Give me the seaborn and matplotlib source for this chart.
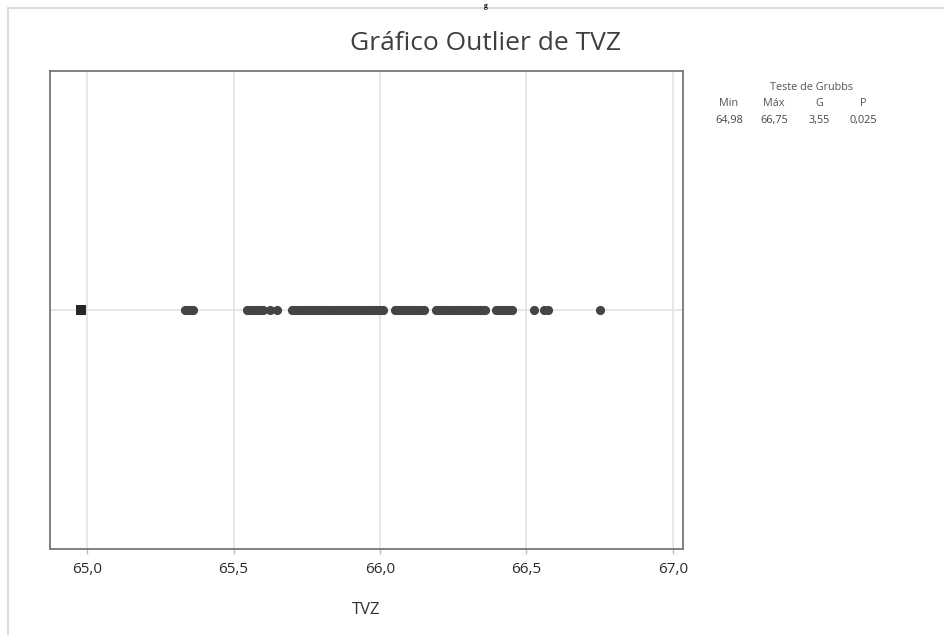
import matplotlib
matplotlib.use("Agg")
import matplotlib.pyplot as plt
from matplotlib.lines import Line2D
from matplotlib.ticker import FuncFormatter
import seaborn as sns

# ---- data ----
outlier = [64.98]
group_a = [65.335, 65.345, 65.355, 65.36]
group_b = [65.545, 65.555, 65.565, 65.575, 65.585, 65.595, 65.60, 65.625, 65.65]
group_c = [65.70, 65.71, 65.72, 65.73, 65.74, 65.75, 65.76, 65.77, 65.78, 65.79,
           65.80, 65.81, 65.82, 65.83, 65.84, 65.85, 65.86, 65.87, 65.88, 65.89,
           65.90, 65.91, 65.92, 65.93, 65.94, 65.95, 65.96, 65.97, 65.98, 65.99,
           66.00, 66.01]
group_d = [66.05, 66.06, 66.07, 66.08, 66.09, 66.10, 66.11, 66.12, 66.13, 66.14, 66.15]
group_e = [66.19, 66.20, 66.21, 66.22, 66.23, 66.24, 66.25, 66.26, 66.27, 66.28,
           66.29, 66.30, 66.31, 66.32, 66.33, 66.34, 66.35, 66.36]
group_f = [66.395, 66.405, 66.415, 66.425, 66.435, 66.445, 66.45]
group_g = [66.525, 66.56, 66.575]
group_h = [66.75]

regular = group_a + group_b + group_c + group_d + group_e + group_f + group_g + group_h

ticks = [65.0, 65.5, 66.0, 66.5, 67.0]
title = "Gráfico Outlier de TVZ"
xlabel = "TVZ"
grubbs_title = "Teste de Grubbs"
grubbs_cols = ["Min", "Máx", "G", "P"]
grubbs_vals = ["64,98", "66,75", "3,55", "0,025"]

# ---- figure ----
sns.set_theme(style="white")
plt.rcParams["font.family"] = ["Open Sans", "DejaVu Sans"]

W, H = 944, 635
fig = plt.figure(figsize=(W / 100, H / 100), dpi=100)
ax = fig.add_axes([50 / W, 1 - 549 / H, (683 - 50) / W, (549 - 71) / H])

dark = "#444444"
sns.stripplot(x=regular, jitter=False, color=dark, size=6.6, marker="o",
              linewidth=0, ax=ax, orient="h", zorder=3)
sns.stripplot(x=outlier, jitter=False, color="#262626", size=7.0, marker="s",
              linewidth=0, ax=ax, orient="h", zorder=3)

ax.set_xlim(64.873, 67.035)
ax.set_ylim(0.5, -0.5)
ax.set_yticks([])
ax.set_xticks(ticks)
ax.xaxis.set_major_formatter(FuncFormatter(lambda v, p: f"{v:.1f}".replace(".", ",")))
ax.tick_params(axis="x", bottom=True, length=3.5, width=1, color="#bbbbbb",
               direction="out", pad=6, labelsize=11, labelcolor="#2a2a2a")
for v in ticks:
    ax.axvline(v, color="#e3e3e3", lw=1.2, zorder=0)
ax.axhline(0, color="#e3e3e3", lw=1.2, zorder=0)
for s in ax.spines.values():
    s.set_color("#777777")
    s.set_linewidth(1.3)

ax.set_xlabel(xlabel, fontsize=12, color="#333333", labelpad=18)
fig.text(485 / W, 1 - 43 / H, title, ha="center", va="center",
         fontsize=19, color="#3f3f3f")

# Grubbs table
fig.text(812 / W, 1 - 88 / H, grubbs_title, ha="center", va="center",
         fontsize=7.8, color="#555555")
col_x = [729, 774, 819, 863]
for cx, c, v in zip(col_x, grubbs_cols, grubbs_vals):
    fig.text(cx / W, 1 - 104 / H, c, ha="center", va="center", fontsize=7.8, color="#555555")
    fig.text(cx / W, 1 - 120 / H, v, ha="center", va="center", fontsize=7.8, color="#444444")

# page border and glyph above it
fig.add_artist(Line2D([8 / W, 1], [1 - 8 / H, 1 - 8 / H], color="#dddddd", lw=1.5,
                      transform=fig.transFigure))
fig.add_artist(Line2D([8 / W, 8 / W], [0, 1 - 8 / H], color="#dddddd", lw=1.5,
                      transform=fig.transFigure))
fig.text(486 / W, 1 - 10 / H, "g", ha="center", va="bottom", fontsize=5.5,
         family="Liberation Serif", fontweight="bold", color="black")

fig.savefig("out.png", dpi=100)
